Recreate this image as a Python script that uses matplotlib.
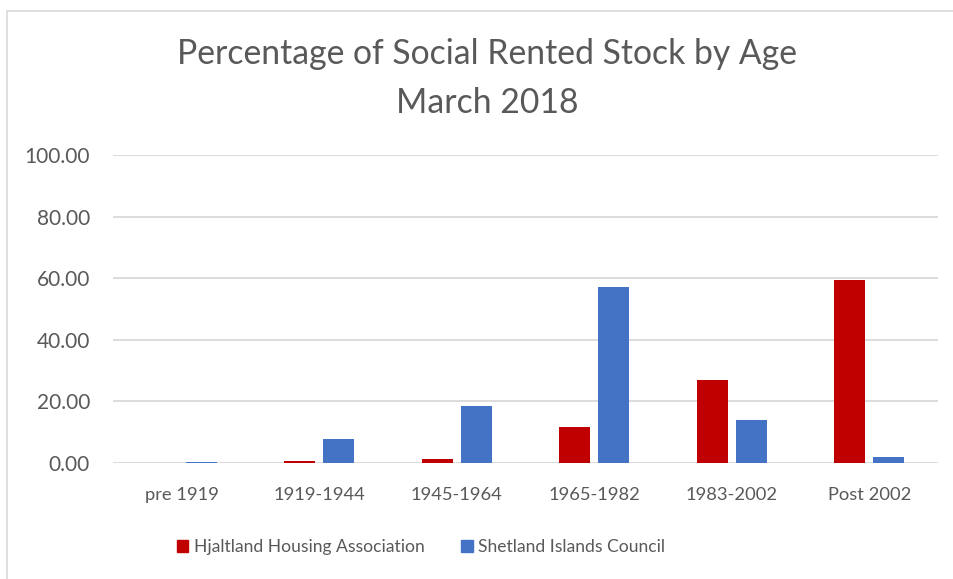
import matplotlib
matplotlib.use("Agg")
import matplotlib.pyplot as plt
from matplotlib.patches import Rectangle, Patch
import numpy as np

categories = ["pre 1919", "1919-1944", "1945-1964", "1965-1982", "1983-2002", "Post 2002"]
hjaltland = [0.0, 0.5, 1.4, 11.7, 26.9, 59.5]
shetland = [0.4, 7.9, 18.4, 57.1, 13.8, 1.8]
series_names = ["Hjaltland Housing Association", "Shetland Islands Council"]
yticks = [0, 20, 40, 60, 80, 100]

RED = "#C00000"
BLUE = "#4472C4"
TXT = "#595959"
GRID = "#D9D9D9"

plt.rcParams['font.family'] = ['Lato', 'DejaVu Sans']

W, H = 954, 579
fig = plt.figure(figsize=(W / 100, H / 100), dpi=100)
fig.patch.set_facecolor("white")

# chart border
fig.add_artist(Rectangle((7 / W, -0.05), 1.2, 1 - 11 / H + 0.05, transform=fig.transFigure,
                         fill=False, edgecolor=GRID, linewidth=1.2))

ax = fig.add_axes([113 / W, (H - 463) / H, (938 - 113) / W, (463 - 155) / H])
x = np.arange(len(categories))
bw = 0.225
off = 0.142
ax.bar(x - off, hjaltland, bw, color=RED, zorder=3)
ax.bar(x + off, shetland, bw, color=BLUE, zorder=3)

ax.set_xlim(-0.5, len(categories) - 0.5)
ax.set_ylim(0, 100)
ax.set_yticks(yticks)
ax.set_yticklabels([f"{v:.2f}" for v in yticks])
ax.set_xticks(x)
ax.set_xticklabels(categories)
ax.tick_params(axis='both', length=0, colors=TXT)
ax.tick_params(axis='y', pad=16.5, labelsize=15)
ax.tick_params(axis='x', pad=17, labelsize=13.2)
ax.grid(axis='y', color=GRID, linewidth=1.3, zorder=0)
for s in ax.spines.values():
    s.set_visible(False)
ax.set_axisbelow(True)

fig.text(487 / W, 1 - 78.5 / H, "Percentage of Social Rented Stock by Age\nMarch 2018",
         ha='center', va='center', fontsize=24.3, color=TXT, linespacing=1.62)

handles = [Patch(color=RED), Patch(color=BLUE)]
fig.legend(handles, series_names, loc='center', bbox_to_anchor=(421 / W, 1 - 547 / H),
           ncol=2, frameon=False, fontsize=12.6, labelcolor=TXT,
           handlelength=0.65, handleheight=0.65, handletextpad=0.3, columnspacing=2.1)

fig.savefig("out.png", dpi=100, facecolor="white")
